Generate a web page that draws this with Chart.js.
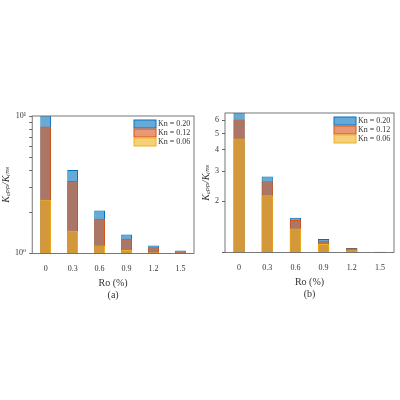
<!DOCTYPE html>
<html><head><meta charset="utf-8">
<script src="https://cdn.jsdelivr.net/npm/chart.js@4"></script>
<style>
body{margin:0;background:#fff;width:400px;height:400px;position:relative;overflow:hidden}
.box{position:absolute}
</style></head><body>
<div class="box" style="left:0;top:108px;width:200px;height:193px"><canvas id="ca"></canvas></div>
<div class="box" style="left:200px;top:105px;width:200px;height:195px"><canvas id="cb"></canvas></div>
<script>
const categories = ["0", "0.3", "0.6", "0.9", "1.2", "1.5"];
const seriesNames = ["Kn = 0.20", "Kn = 0.12", "Kn = 0.06"];
// panel (a)
const a_kn20 = [10.5, 4.05, 2.05, 1.37, 1.14, 1.05];
const a_kn12 = [8.4, 3.36, 1.79, 1.28, 1.11, 1.03];
const a_kn06 = [2.46, 1.46, 1.14, 1.06, 1.02, 1.01];
// panel (b)
const b_kn20 = [6.9, 2.79, 1.6, 1.2, 1.06, 1.01];
const b_kn12 = [6.05, 2.62, 1.55, 1.17, 1.057, 1.005];
const b_kn06 = [4.67, 2.17, 1.38, 1.12, 1.03, 1.0];
const a_ticks = [1,2,3,4,5,6,7,8,9,10];
const b_ticks = [1,2,3,4,5,6];

const font = "'Liberation Serif', 'DejaVu Serif', serif";
Chart.defaults.font.family = font;
Chart.defaults.color = "#333";

// frame around the plot + legend in the top right corner
const frame = {
  id: "frame",
  afterDraw(chart) {
    const { ctx, chartArea: a } = chart;
    ctx.save();
    ctx.strokeStyle = "#555";
    ctx.lineWidth = 0.8;
    ctx.strokeRect(a.left, a.top, a.right - a.left, a.bottom - a.top);
    ctx.font = "8px " + font;
    ctx.textBaseline = "middle";
    const x0 = a.right - 60, y0 = a.top + 8;
    chart.data.datasets.forEach((d, i) => {
      const y = y0 + i * 9;
      ctx.fillStyle = d.backgroundColor;
      ctx.fillRect(x0, y - 4, 22, 8);
      ctx.strokeStyle = d.borderColor;
      ctx.lineWidth = 1;
      ctx.strokeRect(x0, y - 4, 22, 8);
      ctx.fillStyle = "#333";
      ctx.fillText(d.label, x0 + 24, y);
    });
    ctx.restore();
  }
};

function ds(label, data, color, order) {
  return {
    label, data, order,
    backgroundColor: color + "99",
    borderColor: color,
    borderWidth: 1,
    barPercentage: 0.4,
    categoryPercentage: 1
  };
}

function makePanel(id, sets, max, ticks, labelFn, tag) {
  return new Chart(document.getElementById(id), {
    type: "bar",
    data: {
      labels: categories,
      datasets: [
        ds(seriesNames[0], sets[0], "#0072BD", 3),
        ds(seriesNames[1], sets[1], "#D95319", 2),
        ds(seriesNames[2], sets[2], "#EDB120", 1)
      ]
    },
    options: {
      animation: false,
      responsive: true,
      maintainAspectRatio: false,
      layout: { padding: { right: 6, top: 8 } },
      scales: {
        x: {
          stacked: true,
          grid: { display: false },
          border: { display: false },
          ticks: { color: "#333", font: { size: 8 } },
          title: { display: true, text: ["Ro (%)", "(" + tag + ")"], font: { size: 10 }, color: "#333", padding: 0 }
        },
        y: {
          type: "logarithmic",
          min: 1, max: max,
          afterBuildTicks: s => { s.ticks = ticks.map(v => ({ value: v })); },
          grid: { drawOnChartArea: false, tickLength: 3, color: "#666" },
          border: { display: false },
          ticks: { callback: labelFn, color: "#333", font: { size: 8 }, autoSkip: false },
          title: { display: true, text: "Kₐₚₚ/Kᵢₙₛ", font: { size: 10, style: "italic" }, color: "#333", padding: 0 }
        }
      },
      plugins: {
        legend: { display: false },
        tooltip: { enabled: false }
      }
    },
    plugins: [frame]
  });
}

makePanel("ca", [a_kn20, a_kn12, a_kn06], 10, a_ticks,
  v => v === 1 ? "10⁰" : v === 10 ? "10¹" : "", "a");
makePanel("cb", [b_kn20, b_kn12, b_kn06], 6.6, b_ticks,
  v => v === 1 ? "" : String(v), "b");
</script>
</body></html>
